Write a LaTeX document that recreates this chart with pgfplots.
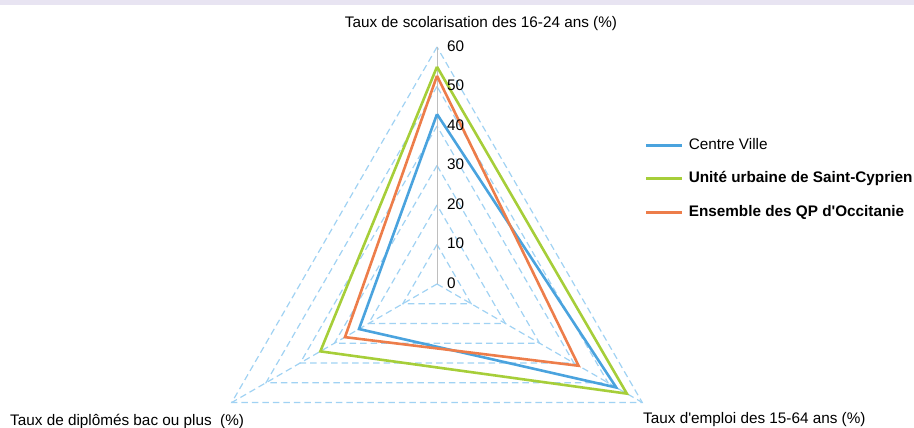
\documentclass[border=0pt]{standalone}
\usepackage{pgfplots}
\pgfplotsset{compat=1.18}
\usepgfplotslibrary{polar}
\usepackage{fontspec}
\setmainfont{Liberation Sans}[Ligatures=TeXOff]
\definecolor{cblue}{RGB}{74,163,222}
\definecolor{cgreen}{RGB}{166,206,57}
\definecolor{corange}{RGB}{237,125,74}
\definecolor{cgrid}{RGB}{160,210,243}
\definecolor{cstrip}{RGB}{232,228,242}
\definecolor{caxis}{RGB}{190,190,190}
\begin{document}
\fontsize{15.3bp}{18bp}\selectfont
\begin{tikzpicture}
\path[use as bounding box] (0,0) rectangle (914bp,-428bp);
\fill[cstrip] (0,0) rectangle (914bp,-4.5bp);
\begin{polaraxis}[
  at={(437bp,-284bp)}, anchor=center,
  scale only axis, width=474bp, height=474bp,
  hide axis, clip=false,
  xmin=0, xmax=360, ymin=0, ymax=60,
  grid line/.style={cgrid, line width=1.2bp, dash pattern=on 6.5bp off 4bp, forget plot},
  data line/.style={line width=2.6bp, line join=miter, mark=none},
  legend image code/.code={\draw[#1] (0bp,0bp) -- (36bp,0bp);},
  legend cell align=left,
  legend style={draw=none, fill=none, inner sep=0pt,
    at={(0.9388,0.808)}, anchor=north west,
    column sep=5bp, row sep=19.5bp,
    font=\fontsize{15.3bp}{18bp}\selectfont,
    nodes={inner sep=0pt, text height=11bp, text depth=3bp}},
]
% grid
\addplot[grid line] coordinates {(90,10)(210,10)(330,10)(90,10)};
\addplot[grid line] coordinates {(90,20)(210,20)(330,20)(90,20)};
\addplot[grid line] coordinates {(90,30)(210,30)(330,30)(90,30)};
\addplot[grid line] coordinates {(90,40)(210,40)(330,40)(90,40)};
\addplot[grid line] coordinates {(90,50)(210,50)(330,50)(90,50)};
\addplot[grid line] coordinates {(90,60)(210,60)(330,60)(90,60)};
\addplot[grid line] coordinates {(210,0)(210,60)};
\addplot[grid line] coordinates {(330,0)(330,60)};
\addplot[caxis, line width=1bp, forget plot] coordinates {(90,0)(90,60)};
% data
\addplot[data line, cblue] coordinates {(90,43.0)(210,22.8)(330,52.4)(90,43.0)};
\addlegendentry{Centre Ville}
\addplot[data line, cgreen] coordinates {(90,55.0)(210,34.1)(330,55.5)(90,55.0)};
\addlegendentry{\textbf{Unité urbaine de Saint-Cyprien}}
\addplot[data line, corange] coordinates {(90,52.7)(210,26.9)(330,41.4)(90,52.7)};
\addlegendentry{\textbf{Ensemble des QP d'Occitanie}}
% tick labels
\pgfplotsinvokeforeach{0,10,20,30,40,50,60}{
  \node[anchor=west, inner sep=0pt, xshift=10bp, yshift=1bp] at (axis cs:90,#1) {#1};
}
\end{polaraxis}
\node[anchor=base, inner sep=0pt] at (481bp,-27bp) {Taux de scolarisation des 16-24 ans (\%)};
\node[anchor=base west, inner sep=0pt] at (10bp,-425bp) {Taux de diplômés bac ou plus\ \ (\%)};
\node[anchor=base west, inner sep=0pt] at (643bp,-423bp) {Taux d'emploi des 15-64 ans (\%)};
\end{tikzpicture}
\end{document}
